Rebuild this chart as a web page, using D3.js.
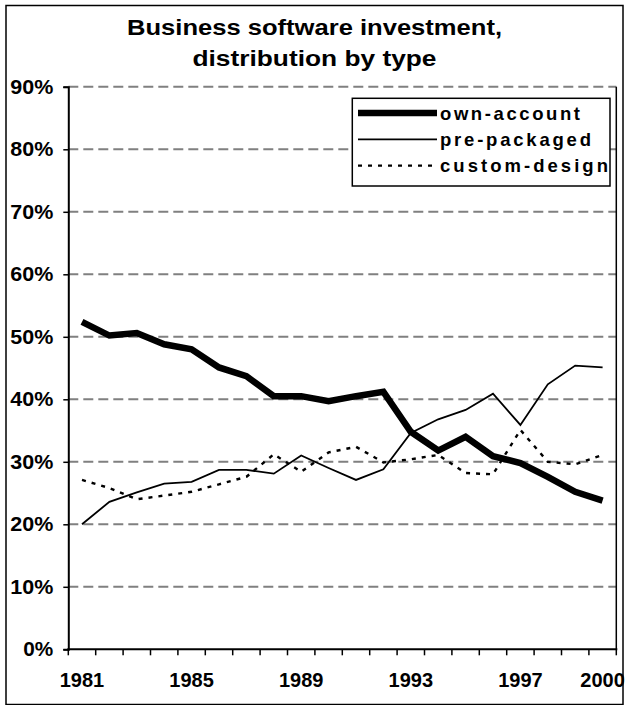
<!DOCTYPE html>
<html>
<head>
<meta charset="utf-8">
<script src="https://cdn.jsdelivr.net/npm/d3@7"></script>
<style>
  html, body { margin: 0; padding: 0; background: #fff; }
  svg { display: block; font-family: Arial, "Liberation Sans", sans-serif; }
</style>
</head>
<body>
<svg id="chart" width="629" height="705"></svg>
<script>
// Datos (porcentaje del total de inversión en software)
const years = ['1981','1982','1983','1984','1985','1986','1987','1988','1989','1990',
               '1991','1992','1993','1994','1995','1996','1997','1998','1999','2000'];
const yearLabels = ['1981','1985','1989','1993','1997','2000'];
const yTicks = [0, 10, 20, 30, 40, 50, 60, 70, 80, 90];

const ownAccount   = [52.4, 50.2, 50.6, 48.8, 48.0, 45.1, 43.7, 40.5, 40.5, 39.7,
                      40.5, 41.2, 34.8, 31.8, 34.0, 30.9, 29.8, 27.6, 25.2, 23.8];
const prePackaged  = [20.0, 23.6, 25.1, 26.5, 26.8, 28.7, 28.7, 28.1, 31.0, 29.0,
                      27.1, 28.8, 34.6, 36.8, 38.3, 40.9, 35.9, 42.4, 45.4, 45.1];
const customDesign = [27.1, 25.8, 24.0, 24.6, 25.2, 26.4, 27.6, 31.2, 28.4, 31.5,
                      32.4, 29.9, 30.4, 31.1, 28.2, 28.0, 35.1, 30.0, 29.6, 31.1];

const seriesNames = ['own-account', 'pre-packaged', 'custom-design'];
const titleLines = ['Business software investment,', 'distribution by type'];

const series = [
  { name: seriesNames[0], values: ownAccount,   width: 6.5, dash: null, textLen: 140 },
  { name: seriesNames[1], values: prePackaged,  width: 1.8, dash: null, textLen: 151 },
  { name: seriesNames[2], values: customDesign, width: 2.4, dash: '4,6', textLen: 168 }
];

const svg = d3.select('#chart');

// Marco exterior
svg.append('rect')
  .attr('x', 6).attr('y', 5.5)
  .attr('width', 617).attr('height', 699)
  .attr('fill', '#fff').attr('stroke', '#000').attr('stroke-width', 1.5);

// Título (texto algo ensanchado, como en el original)
svg.append('g')
  .selectAll('text')
  .data(titleLines)
  .enter()
  .append('text')
  .attr('text-anchor', 'middle')
  .attr('x', 314.5)
  .attr('y', (d, i) => 34.5 + i * 31)
  .attr('font-size', 21.5).attr('font-weight', 'bold')
  .attr('textLength', (d, i) => i === 0 ? 375 : 244)
  .attr('lengthAdjust', 'spacingAndGlyphs')
  .text(d => d);

// Escalas
const plotLeft = 68.3, plotRight = 616.3, plotBottom = 649.3, plotTop = 86.8;
const x = d3.scaleBand().domain(years).range([plotLeft, plotRight]).padding(0);
const y = d3.scaleLinear().domain([0, 90]).range([plotBottom, plotTop]);

// Líneas de cuadrícula
svg.append('g')
  .selectAll('line')
  .data(yTicks.filter(d => d > 0))
  .enter()
  .append('line')
  .attr('x1', plotLeft).attr('x2', plotRight)
  .attr('y1', d => y(d)).attr('y2', d => y(d))
  .attr('stroke', '#808080')
  .attr('stroke-width', 2)
  .attr('stroke-dasharray', '10,5');

// Eje Y
const yAxis = svg.append('g')
  .attr('transform', `translate(${plotLeft},0)`)
  .call(d3.axisLeft(y).tickValues(yTicks).tickFormat(d => d + '%').tickSize(5).tickPadding(10));
yAxis.select('.domain').attr('stroke', '#000').attr('stroke-width', 2);
yAxis.selectAll('.tick line').attr('stroke', '#000').attr('stroke-width', 1.5);
yAxis.selectAll('.tick text')
  .attr('font-size', 20).attr('font-weight', 'bold')
  .attr('textLength', d => d === 0 ? 30 : 43)
  .attr('lengthAdjust', 'spacingAndGlyphs')
  .attr('font-family', 'Arial, "Liberation Sans", sans-serif')
  .attr('fill', '#000');

// Eje X: marcas entre categorías
const xEdges = years.map(d => x(d)).concat([x(years[years.length - 1]) + x.bandwidth()]);
svg.append('g')
  .selectAll('line')
  .data(xEdges)
  .enter()
  .append('line')
  .attr('x1', d => d).attr('x2', d => d)
  .attr('y1', plotBottom).attr('y2', plotBottom + 6)
  .attr('stroke', '#000').attr('stroke-width', 1.5);

const xAxis = svg.append('g')
  .attr('transform', `translate(0,${plotBottom})`)
  .call(d3.axisBottom(x).tickValues(yearLabels).tickSize(0).tickPadding(24));
xAxis.select('.domain').remove();
xAxis.selectAll('.tick text')
  .attr('font-size', 20).attr('font-weight', 'bold')
  .attr('font-family', 'Arial, "Liberation Sans", sans-serif')
  .attr('fill', '#000');

// Línea inferior y borde derecho del área de trazado
svg.append('line')
  .attr('x1', plotLeft - 1).attr('x2', plotRight + 1)
  .attr('y1', plotBottom).attr('y2', plotBottom)
  .attr('stroke', '#000').attr('stroke-width', 2);
svg.append('line')
  .attr('x1', plotRight).attr('x2', plotRight)
  .attr('y1', plotTop).attr('y2', plotBottom)
  .attr('stroke', '#000').attr('stroke-width', 1.5);

// Series
const line = d3.line()
  .x((d, i) => x(years[i]) + x.bandwidth() / 2)
  .y(d => y(d));

svg.append('g')
  .selectAll('path')
  .data(series.slice().reverse())
  .enter()
  .append('path')
  .attr('d', d => line(d.values))
  .attr('fill', 'none')
  .attr('stroke', '#000')
  .attr('stroke-width', d => d.width)
  .attr('stroke-dasharray', d => d.dash)
  .attr('stroke-linejoin', 'miter');

// Leyenda
const legend = svg.append('g');
legend.append('rect')
  .attr('x', 352.3).attr('y', 98.3)
  .attr('width', 257.7).attr('height', 87.7)
  .attr('fill', '#fff').attr('stroke', '#000').attr('stroke-width', 1.5);

const rows = legend.selectAll('g.row')
  .data(series)
  .enter()
  .append('g')
  .attr('class', 'row')
  .attr('transform', (d, i) => `translate(0,${119.5 + i * 26.3})`);

rows.append('line')
  .attr('x1', 358).attr('x2', 437)
  .attr('y1', -6.5).attr('y2', -6.5)
  .attr('stroke', '#000')
  .attr('stroke-width', d => d.width)
  .attr('stroke-dasharray', d => d.dash);

rows.append('text')
  .attr('x', 440)
  .attr('font-size', 18.5).attr('font-weight', 'bold')
  .attr('textLength', d => d.textLen)
  .attr('lengthAdjust', 'spacing')
  .text(d => d.name);
</script>
</body>
</html>
